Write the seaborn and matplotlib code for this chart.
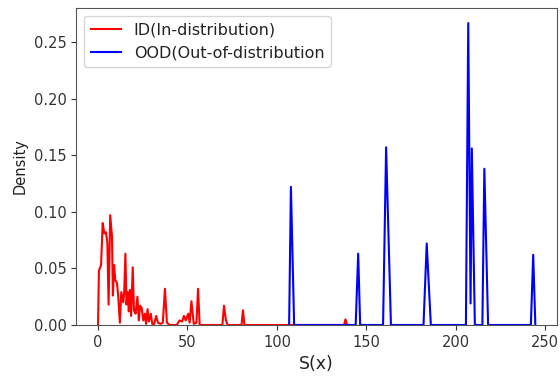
import matplotlib
matplotlib.use("Agg")
import pandas as pd
import matplotlib.pyplot as plt
import seaborn as sns

# density curve of S(x) for in-distribution samples
id_x = [0.0, 0.5, 1.7, 2.6, 3.5, 4.4, 5.2, 5.9, 6.8, 7.8, 8.3, 9.0, 9.6, 10.6,
        11.3, 12.2, 13.0, 14.1, 14.6, 15.3, 15.9, 16.6, 17.2, 17.8, 18.5, 19.4,
        20.1, 21.0, 22.0, 22.8, 23.5, 24.4, 25.3, 26.2, 26.8, 27.7, 28.4, 29.5,
        30.3, 31.4, 32.5, 33.5, 35.0, 36.2, 37.4, 38.5, 40.0, 44.0, 45.5, 47.0,
        48.0, 49.0, 50.4, 51.2, 52.2, 53.5, 55.0, 55.9, 56.8, 69.5, 70.4, 71.5,
        72.5, 80.2, 81.0, 81.8, 137.5, 138.3, 139.2, 140.0]
id_y = [0.0, 0.048, 0.053, 0.090, 0.081, 0.082, 0.073, 0.018, 0.097, 0.078,
        0.026, 0.053, 0.040, 0.037, 0.025, 0.002, 0.029, 0.020, 0.028, 0.063,
        0.018, 0.029, 0.012, 0.031, 0.008, 0.051, 0.013, 0.010, 0.025, 0.004,
        0.017, 0.015, 0.004, 0.010, 0.001, 0.014, 0.003, 0.010, 0.001, 0.001,
        0.008, 0.002, 0.001, 0.002, 0.032, 0.002, 0.0, 0.0, 0.004, 0.003,
        0.008, 0.004, 0.010, 0.002, 0.021, 0.001, 0.002, 0.032, 0.0, 0.0,
        0.017, 0.004, 0.0, 0.0, 0.013, 0.0, 0.0, 0.005, 0.0, 0.0]

# density curve for out-of-distribution samples
ood_x = [106.8, 107.8, 109.6, 144.0, 145.4, 146.5, 159.3, 161.0, 163.7,
         181.9, 183.7, 186.0, 205.6, 206.9, 208.2, 208.9, 210.6,
         214.8, 215.9, 218.0, 241.9, 243.2, 244.4]
ood_y = [0.0, 0.122, 0.0, 0.0, 0.063, 0.0, 0.0, 0.157, 0.0,
         0.0, 0.072, 0.0, 0.0, 0.2667, 0.019, 0.156, 0.0,
         0.0, 0.138, 0.0, 0.0, 0.062, 0.0]

df_id = pd.DataFrame({"S": id_x, "Density": id_y})
df_ood = pd.DataFrame({"S": ood_x, "Density": ood_y})

plt.rc('xtick', labelsize=10.5, color='#333333')
plt.rc('ytick', labelsize=10.5, color='#333333')
plt.rc('axes', edgecolor='#555555', labelcolor='#222222')
plt.rc('text', color='#222222')

fig = plt.figure(figsize=(5.6, 3.79), dpi=100)
ax = fig.add_axes([0.136, 0.1425, 0.859, 0.8365])

sns.lineplot(data=df_id, x="S", y="Density", color="red", linewidth=1.5,
             label="ID(In-distribution)", ax=ax)
sns.lineplot(data=df_ood, x="S", y="Density", color="blue", linewidth=1.5,
             label="OOD(Out-of-distribution", ax=ax)

ax.set_ylim(0, None)
ax.set_xlabel("S(x)", fontsize=12.5)
ax.set_ylabel("Density", fontsize=10.5)
ax.legend(loc="upper left", fontsize=11.5, handlelength=1.9)

plt.savefig("out.png", dpi=100)
